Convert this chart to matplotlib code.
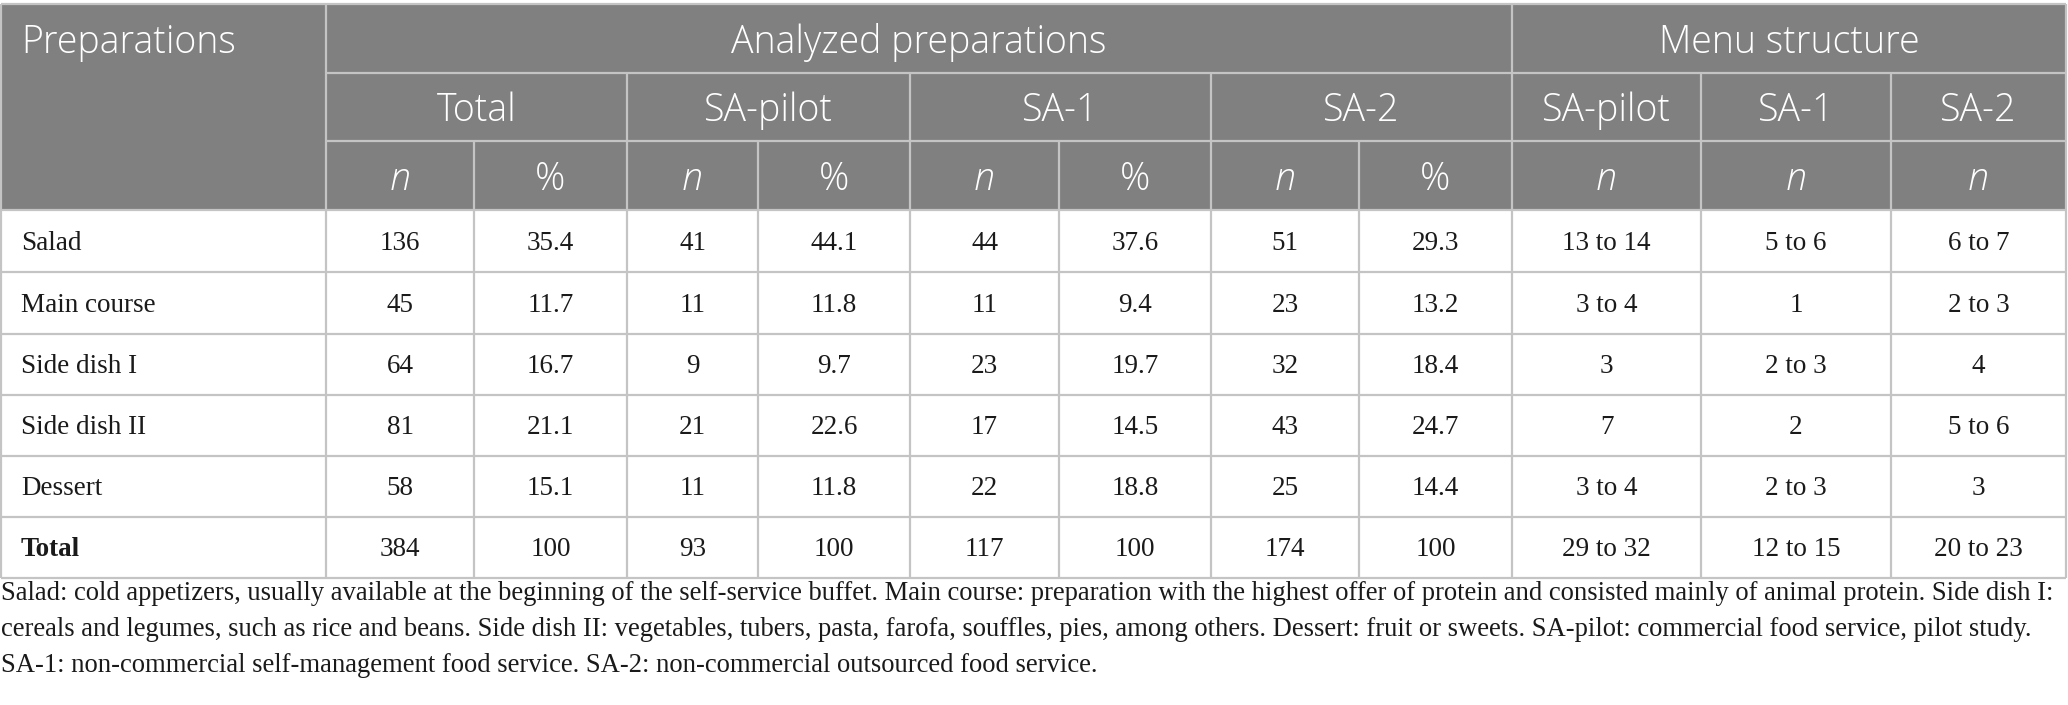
import matplotlib
matplotlib.use('Agg')
import matplotlib.pyplot as plt
from matplotlib.patches import Rectangle

categories = ['Salad', 'Main course', 'Side dish I', 'Side dish II', 'Dessert', 'Total']
total_n = ['136', '45', '64', '81', '58', '384']
total_pct = ['35.4', '11.7', '16.7', '21.1', '15.1', '100']
pilot_n = ['41', '11', '9', '21', '11', '93']
pilot_pct = ['44.1', '11.8', '9.7', '22.6', '11.8', '100']
sa1_n = ['44', '11', '23', '17', '22', '117']
sa1_pct = ['37.6', '9.4', '19.7', '14.5', '18.8', '100']
sa2_n = ['51', '23', '32', '43', '25', '174']
sa2_pct = ['29.3', '13.2', '18.4', '24.7', '14.4', '100']
menu_pilot = ['13 to 14', '3 to 4', '3', '7', '3 to 4', '29 to 32']
menu_sa1 = ['5 to 6', '1', '2 to 3', '2', '2 to 3', '12 to 15']
menu_sa2 = ['6 to 7', '2 to 3', '4', '5 to 6', '3', '20 to 23']

group_labels = ['Analyzed preparations', 'Menu structure']
sub_labels = ['Total', 'SA-pilot', 'SA-1', 'SA-2', 'SA-pilot', 'SA-1', 'SA-2']
unit_labels = ['n', '%', 'n', '%', 'n', '%', 'n', '%', 'n', 'n', 'n']

footnote = [
    'Salad: cold appetizers, usually available at the beginning of the self-service buffet. Main course: preparation with the highest offer of protein and consisted mainly of animal protein. Side dish I:',
    'cereals and legumes, such as rice and beans. Side dish II: vegetables, tubers, pasta, farofa, souffles, pies, among others. Dessert: fruit or sweets. SA-pilot: commercial food service, pilot study.',
    'SA-1: non-commercial self-management food service. SA-2: non-commercial outsourced food service.',
]

W, H = 2068, 705
fig = plt.figure(figsize=(W / 100, H / 100), dpi=100)
ax = fig.add_axes([0, 0, 1, 1])
ax.set_xlim(0, W)
ax.set_ylim(H, 0)
ax.axis('off')

head_bg = '#7f807f'
line_c = '#c4c4c4'
txt_c = '#1a1a1a'
hfont = 'Open Sans'
bfont = 'Liberation Serif'

cols = [1, 326, 474, 627, 758, 910, 1059, 1211, 1359, 1512, 1701, 1891, 2066]
hrows = [4, 73, 141, 210]
drows = [210, 272, 334, 395, 456, 517, 578]

# header background
ax.add_patch(Rectangle((cols[0], hrows[0]), cols[-1] - cols[0], hrows[3] - hrows[0],
                       facecolor=head_bg, edgecolor='none'))

def hline(y, x0, x1):
    ax.plot([x0, x1], [y, y], color=line_c, lw=1.6, solid_capstyle='butt')

def vline(x, y0, y1):
    ax.plot([x, x], [y0, y1], color=line_c, lw=1.6, solid_capstyle='butt')

# grid
hline(hrows[0], cols[0], cols[-1])
hline(hrows[1], cols[1], cols[-1])
hline(hrows[2], cols[1], cols[-1])
vline(cols[0], hrows[0], drows[-1])
vline(cols[-1], hrows[0], drows[-1])
vline(cols[1], hrows[0], drows[-1])
vline(cols[9], hrows[0], drows[-1])
for i in [3, 5, 7, 10, 11]:
    vline(cols[i], hrows[1], drows[-1])
for i in [2, 4, 6, 8]:
    vline(cols[i], hrows[2], drows[-1])
for y in drows:
    hline(y, cols[0], cols[-1])

hsize = 27
dy = 4  # header text sits a little below the cell middle
ax.text(21, (hrows[0] + hrows[1]) / 2 + dy, 'Preparations', color='white', fontsize=hsize,
        family=hfont, weight='light', ha='left', va='center')
ax.text((cols[1] + cols[9]) / 2, (hrows[0] + hrows[1]) / 2 + dy, group_labels[0], color='white',
        fontsize=hsize, family=hfont, weight='light', ha='center', va='center')
ax.text((cols[9] + cols[12]) / 2, (hrows[0] + hrows[1]) / 2 + dy, group_labels[1], color='white',
        fontsize=hsize, family=hfont, weight='light', ha='center', va='center')

sub_spans = [(1, 3), (3, 5), (5, 7), (7, 9), (9, 10), (10, 11), (11, 12)]
for lab, (a, b) in zip(sub_labels, sub_spans):
    ax.text((cols[a] + cols[b]) / 2, (hrows[1] + hrows[2]) / 2 + dy, lab, color='white',
            fontsize=hsize, family=hfont, weight='light', ha='center', va='center')

for i, lab in enumerate(unit_labels):
    ax.text((cols[i + 1] + cols[i + 2]) / 2, (hrows[2] + hrows[3]) / 2 + dy, lab, color='white',
            fontsize=hsize, family=hfont, weight='light', ha='center', va='center',
            style='italic' if lab == 'n' else 'normal')

# body
columns = [total_n, total_pct, pilot_n, pilot_pct, sa1_n, sa1_pct, sa2_n, sa2_pct,
           menu_pilot, menu_sa1, menu_sa2]
bsize = 19.5
for r, cat in enumerate(categories):
    yc = (drows[r] + drows[r + 1]) / 2 + 2
    last = r == len(categories) - 1
    ax.text(21, yc, cat, fontsize=bsize, family=bfont, color=txt_c, ha='left', va='center',
            weight='bold' if last else 'normal')
    for c, vals in enumerate(columns):
        ax.text((cols[c + 1] + cols[c + 2]) / 2, yc, vals[r], fontsize=bsize, family=bfont,
                color=txt_c, ha='center', va='center')

for k, line in enumerate(footnote):
    ax.text(1, 594 + k * 36, line, fontsize=19.2, family=bfont, color=txt_c,
            ha='left', va='center')

fig.savefig('out.png', dpi=100)
